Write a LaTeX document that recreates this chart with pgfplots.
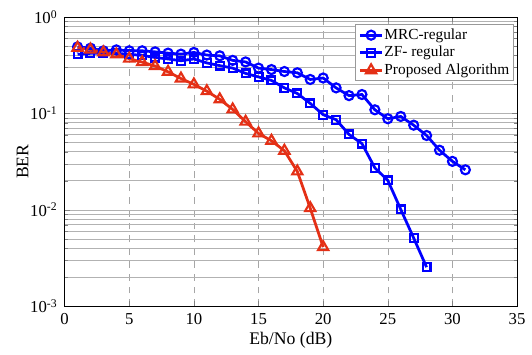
\documentclass[border=0pt]{standalone}
\usepackage{fontspec}
\setmainfont{Liberation Serif}
\usepackage{pgfplots}
\pgfplotsset{compat=1.18}
\definecolor{myblue}{RGB}{0,0,255}
\definecolor{myred}{RGB}{228,48,22}
\begin{document}
\begin{tikzpicture}
\begin{axis}[
  scale only axis,
  width=230pt, height=147pt,
  ymode=log,
  xmin=0, xmax=35, ymin=1e-3, ymax=1,
  xtick={0,5,...,35},
  ytick={1e-3,1e-2,1e-1,1},
  yticklabels={10\textsuperscript{-3},10\textsuperscript{-2},10\textsuperscript{-1},10\textsuperscript{0}},
  /pgf/number format/assume math mode=true,
  tick label style={font=\fontsize{8.5}{9}\selectfont},
  label style={font=\fontsize{9}{10}\selectfont},
  xlabel={Eb/No (dB)},
  ylabel={BER},
  xlabel style={yshift=3pt},
  ylabel style={yshift=-6pt},
  tick align=inside,
  major tick length=2.5pt,
  minor tick length=1.5pt,
  xmajorgrids, ymajorgrids, yminorgrids,
  x grid style={gray!70, line width=0.3pt, dash pattern=on 3.5pt off 3pt},
  y grid style={gray!60, line width=0.3pt},
  axis line style={line width=0.4pt},
  legend style={at={(0.992,0.975)}, anchor=north east, font=\fontsize{7.8}{8.5}\selectfont,
    draw=gray!80, line width=0.4pt, inner xsep=1.5pt, inner ysep=1.5pt, row sep=1.2pt,
    nodes={inner sep=0.4pt}, legend cell align=left},
  legend image code/.code={
    \draw[mark repeat=2,mark phase=2] plot coordinates {(0cm,0cm) (0.2cm,0cm) (0.4cm,0cm)};
  },
]
\addplot[myblue, line width=1.4pt, mark=o, mark size=2.3pt, mark options={line width=1.1pt, fill=white}]
coordinates {
(1,0.49) (2,0.475) (3,0.446) (4,0.456) (5,0.446) (6,0.446) (7,0.435) (8,0.422) (9,0.412) (10,0.429)
(11,0.403) (12,0.396) (13,0.355) (14,0.342) (15,0.295) (16,0.285) (17,0.272) (18,0.264) (19,0.225) (20,0.233)
(21,0.184) (22,0.153) (23,0.157) (24,0.109) (25,0.088) (26,0.093) (27,0.0755) (28,0.059) (29,0.0415) (30,0.0318)
(31,0.026)
};
\addlegendentry{MRC-regular}
\addplot[myblue, line width=1.4pt, mark=square, mark size=2.0pt, mark options={line width=1.1pt, fill=white}]
coordinates {
(1,0.41) (2,0.42) (3,0.42) (4,0.42) (5,0.41) (6,0.40) (7,0.38) (8,0.367) (9,0.352) (10,0.367)
(11,0.334) (12,0.313) (13,0.295) (14,0.26) (15,0.239) (16,0.22) (17,0.184) (18,0.161) (19,0.127) (20,0.097)
(21,0.086) (22,0.0605) (23,0.0486) (24,0.0272) (25,0.0202) (26,0.0101) (27,0.0051) (28,0.00254)
};
\addlegendentry{ZF- regular}
\addplot[myred, line width=1.4pt, mark=triangle, mark size=3.0pt, mark options={line width=1.1pt, fill=white}]
coordinates {
(1,0.48) (2,0.46) (3,0.43) (4,0.41) (5,0.37) (6,0.34) (7,0.31) (8,0.27) (9,0.23) (10,0.20)
(11,0.17) (12,0.14) (13,0.11) (14,0.082) (15,0.062) (16,0.052) (17,0.041) (18,0.025) (19,0.0104) (20,0.0041)
};
\addlegendentry{Proposed Algorithm}
\end{axis}
\path ([xshift=-32.85pt,yshift=-20.5pt]current axis.south west) rectangle ([xshift=3pt,yshift=8.65pt]current axis.north east);
\end{tikzpicture}
\end{document}
